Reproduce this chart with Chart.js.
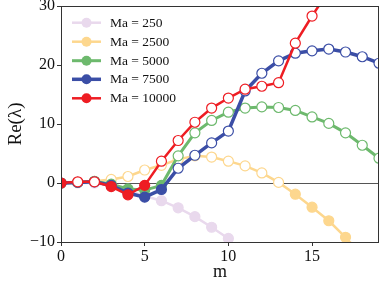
<!DOCTYPE html>
<html><head><meta charset="utf-8">
<script src="https://cdn.jsdelivr.net/npm/chart.js@4"></script>
<style>html,body{margin:0;padding:0;background:#fff}#c{display:block}</style>
</head><body>
<div style="width:380px;height:283px"><canvas id="c" width="380" height="283"></canvas></div>
<script>
const mValues = [0,1,2,3,4,5,6,7,8,9,10,11,12,13,14,15,16,17,18,19];
const seriesLabels = ['Ma = 250','Ma = 2500','Ma = 5000','Ma = 7500','Ma = 10000'];
const ma250   = [0,0,0,-0.5,-1.3,-2.2,-3.0,-4.2,-5.7,-7.5,-9.4];
const ma2500  = [0,0.1,0.3,0.6,1.1,2.2,3.0,4.0,4.6,4.4,3.7,2.9,1.7,0.1,-1.9,-4.1,-6.4,-9.2,-12.3];
const ma5000  = [0,0.1,0.3,-0.2,-1.0,-1.2,-0.4,4.6,8.5,10.6,12.0,12.7,12.9,12.8,12.3,11.2,10.1,8.5,6.4,4.2];
const ma7500  = [0,0.1,0.2,-0.4,-1.7,-2.4,-1.1,2.5,4.7,6.8,8.8,15.6,18.6,20.7,22.0,22.4,22.7,22.2,21.4,20.3];
const ma10000 = [0,0.2,0.2,-0.6,-2.0,-0.4,3.7,7.2,10.3,12.7,14.4,15.9,16.4,17.0,23.7,28.3,32.6];
const xTicks = [0,5,10,15];
const yTicks = [-10,0,10,20,30];

const colors = ['#e9d9ed','#fdd78e','#6db96d','#3b4ea6','#ee1d23'];
const widths = [2.5,2.5,3,3.5,2.5];
const allData = [ma250,ma2500,ma5000,ma7500,ma10000];

const serif = "'Liberation Serif','DejaVu Serif',serif";

const datasets = allData.map((arr,i)=>({
  label: seriesLabels[i],
  data: arr.map((v,j)=>({x:mValues[j],y:v})),
  borderColor: colors[i],
  borderWidth: widths[i],
  pointRadius: 5,
  pointHoverRadius: 5,
  pointBorderWidth: 1.2,
  pointBorderColor: colors[i],
  pointBackgroundColor: arr.map(v=> v>0 ? '#ffffff' : colors[i]),
  order: 4-i,
  tension: 0
}));

const deco = {
  id:'deco',
  beforeDatasetsDraw(chart){
    const {ctx, chartArea:a, scales:{y}} = chart;
    ctx.save();
    ctx.strokeStyle = '#555';
    ctx.lineWidth = 1;
    const y0 = Math.round(y.getPixelForValue(0))+0.5;
    ctx.beginPath(); ctx.moveTo(a.left,y0); ctx.lineTo(a.right,y0); ctx.stroke();
    ctx.restore();
  },
  afterDraw(chart){
    const {ctx, chartArea:a} = chart;
    ctx.save();
    ctx.strokeStyle = '#333';
    ctx.lineWidth = 1;
    ctx.strokeRect(a.left+0.5,a.top+0.5,a.right-a.left-1,a.bottom-a.top);
    const rows=[22.7,41.7,60.7,79.3,98.3];
    ctx.font = "13.5px "+serif;
    ctx.textBaseline='middle';
    seriesLabels.forEach((t,i)=>{
      const yy=rows[i];
      ctx.strokeStyle=colors[i]; ctx.lineWidth=widths[i];
      ctx.beginPath(); ctx.moveTo(72,yy); ctx.lineTo(101,yy); ctx.stroke();
      ctx.fillStyle=colors[i];
      ctx.beginPath(); ctx.arc(86.5,yy,5,0,Math.PI*2); ctx.fill();
      ctx.fillStyle='#111';
      ctx.fillText(t,110,yy+0.5);
    });
    ctx.restore();
  }
};

new Chart(document.getElementById('c'),{
  type:'line',
  data:{datasets},
  options:{
    responsive:false,
    animation:false,
    events:[],
    layout:{autoPadding:false,padding:{top:6,right:1,left:0,bottom:0}},
    plugins:{legend:{display:false},tooltip:{enabled:false}},
    scales:{
      x:{
        type:'linear', min:0, max:19,
        afterBuildTicks(s){ s.ticks = xTicks.map(v=>({value:v})); },
        afterFit(s){ s.height = 41; s.paddingLeft=0; s.paddingRight=0; },
        grid:{display:true,drawOnChartArea:false,drawTicks:true,tickLength:4,color:'#333'},
        border:{display:false},
        ticks:{color:'#111',font:{family:serif,size:16},padding:1,maxRotation:0},
        title:{display:true,text:'m',color:'#111',font:{family:serif,size:18},padding:{top:-4,bottom:0}}
      },
      y:{
        type:'linear', min:-10, max:30,
        afterBuildTicks(s){ s.ticks = yTicks.map(v=>({value:v})); },
        afterFit(s){ s.width = 61; s.paddingTop=0; s.paddingBottom=0; },
        grid:{display:true,drawOnChartArea:false,drawTicks:true,tickLength:4,color:'#333'},
        border:{display:false},
        ticks:{color:'#111',font:{family:serif,size:16},padding:2,
          callback:v=>String(v).replace('-','\u2212')},
        title:{display:true,text:'Re(\u03bb)',color:'#111',font:{family:serif,size:19},padding:{top:5,bottom:0}}
      }
    }
  },
  plugins:[deco]
});
</script>
</body></html>
